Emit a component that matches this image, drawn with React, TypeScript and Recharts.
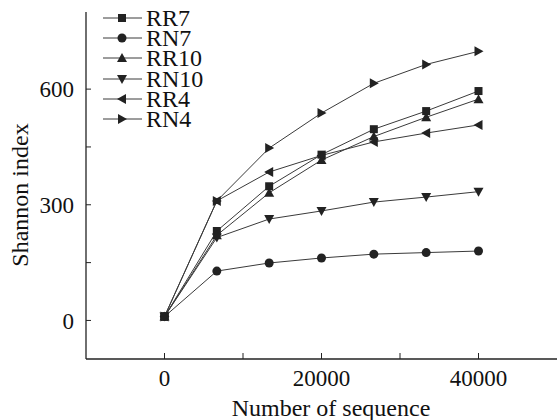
import { Legend, Line, LineChart, XAxis, YAxis } from 'recharts';

// sequencing depth at each rarefaction step
const depths = [0, 6667, 13333, 20000, 26667, 33333, 40000];

const rr7 = [10, 232, 348, 430, 496, 543, 595];
const rn7 = [10, 128, 149, 162, 172, 176, 180];
const rr10 = [10, 221, 331, 416, 477, 527, 574];
const rn10 = [10, 215, 263, 284, 307, 320, 334];
const rr4 = [10, 310, 385, 428, 463, 486, 507];
const rn4 = [10, 310, 447, 538, 615, 664, 698];

const xTicks = [0, 10000, 20000, 30000, 40000];
const xLabels = [0, 20000, 40000];
const yTicks = [0, 150, 300, 450, 600];
const yLabels = [0, 300, 600];

const seriesNames = ['RR7', 'RN7', 'RR10', 'RN10', 'RR4', 'RN4'];
const seriesValues = [rr7, rn7, rr10, rn10, rr4, rn4];
const seriesShapes = ['square', 'circle', 'up', 'down', 'left', 'right'];

const data = depths.map((d, i) => {
  const row: Record<string, number> = { depth: d };
  seriesNames.forEach((n, k) => {
    row[n] = seriesValues[k][i];
  });
  return row;
});

const FONT = "'Liberation Serif'";
const INK = '#222';
const LINE = '#3a3a3a';

function Marker({ cx, cy, shape }: { cx: number; cy: number; shape: string }) {
  if (cx == null || cy == null) return null;
  const s = 5;
  switch (shape) {
    case 'square':
      return <rect x={cx - 4} y={cy - 4} width={8} height={8} fill={INK} />;
    case 'circle':
      return <circle cx={cx} cy={cy} r={4.5} fill={INK} />;
    case 'up':
      return <polygon points={`${cx},${cy - s} ${cx - s},${cy + 4} ${cx + s},${cy + 4}`} fill={INK} />;
    case 'down':
      return <polygon points={`${cx},${cy + s} ${cx - s},${cy - 4} ${cx + s},${cy - 4}`} fill={INK} />;
    case 'left':
      return <polygon points={`${cx - s},${cy} ${cx + 4},${cy - s} ${cx + 4},${cy + s}`} fill={INK} />;
    default:
      return <polygon points={`${cx + s},${cy} ${cx - 4},${cy - s} ${cx - 4},${cy + s}`} fill={INK} />;
  }
}

const dotFor = (shape: string) => (props: any) =>
  <Marker key={`${shape}-${props.index}`} cx={props.cx} cy={props.cy} shape={shape} />;

function LegendBox() {
  return (
    <div style={{ fontFamily: FONT, fontSize: 24, color: '#111' }}>
      {seriesNames.map((n, k) => (
        <div key={n} style={{ display: 'flex', alignItems: 'center', height: 20.2 }}>
          <svg width={40} height={20} style={{ display: 'block' }}>
            <line x1={0} y1={10} x2={39} y2={10} stroke={LINE} strokeWidth={1} />
            <Marker cx={19} cy={10} shape={seriesShapes[k]} />
          </svg>
          <span style={{ marginLeft: 3, lineHeight: '20px' }}>{n}</span>
        </div>
      ))}
    </div>
  );
}

export default function App() {
  return (
    <div style={{ position: 'absolute', left: 0, top: 0, background: '#fff', fontFamily: FONT }}>
      <LineChart
        width={557}
        height={420}
        data={data}
        margin={{ top: 12, right: 0, bottom: 0, left: 0 }}
      >
        <XAxis
          dataKey="depth"
          type="number"
          domain={[-10000, 50000]}
          ticks={xTicks}
          height={61}
          tickSize={-6}
          tickMargin={17}
          tickFormatter={(v: number) => (xLabels.includes(v) ? String(v) : '')}
          tick={{ fill: '#111', fontSize: 23, fontFamily: FONT }}
          axisLine={{ stroke: INK, strokeWidth: 1.3 }}
          tickLine={{ stroke: INK }}
          label={{
            content: () => (
              <text x={331} y={416} textAnchor="middle" fontFamily={FONT} fontSize={24} fill="#111">
                Number of sequence
              </text>
            ),
          }}
        />
        <YAxis
          type="number"
          domain={[-100, 800]}
          ticks={yTicks}
          width={86}
          tickSize={-5}
          tickMargin={17}
          tickFormatter={(v: number) => (yLabels.includes(v) ? String(v) : '')}
          tick={{ fill: '#111', fontSize: 23, fontFamily: FONT }}
          axisLine={{ stroke: INK, strokeWidth: 1.3 }}
          tickLine={{ stroke: INK }}
          label={{
            content: () => (
              <text
                x={20}
                y={195}
                transform="rotate(-90 20 195)"
                textAnchor="middle"
                dominantBaseline="central"
                fontFamily={FONT}
                fontSize={24}
                fill="#111"
              >
                Shannon index
              </text>
            ),
          }}
        />
        <Legend
          layout="vertical"
          verticalAlign="middle"
          align="center"
          content={() => <LegendBox />}
          wrapperStyle={{ position: 'absolute', top: 8, left: 103, width: 'auto', height: 'auto' }}
        />
        {seriesNames.map((n, k) => (
          <Line
            key={n}
            type="linear"
            dataKey={n}
            name={n}
            stroke={LINE}
            strokeWidth={1}
            dot={dotFor(seriesShapes[k])}
            activeDot={false}
            legendType="none"
            isAnimationActive={false}
          />
        ))}
      </LineChart>
    </div>
  );
}
